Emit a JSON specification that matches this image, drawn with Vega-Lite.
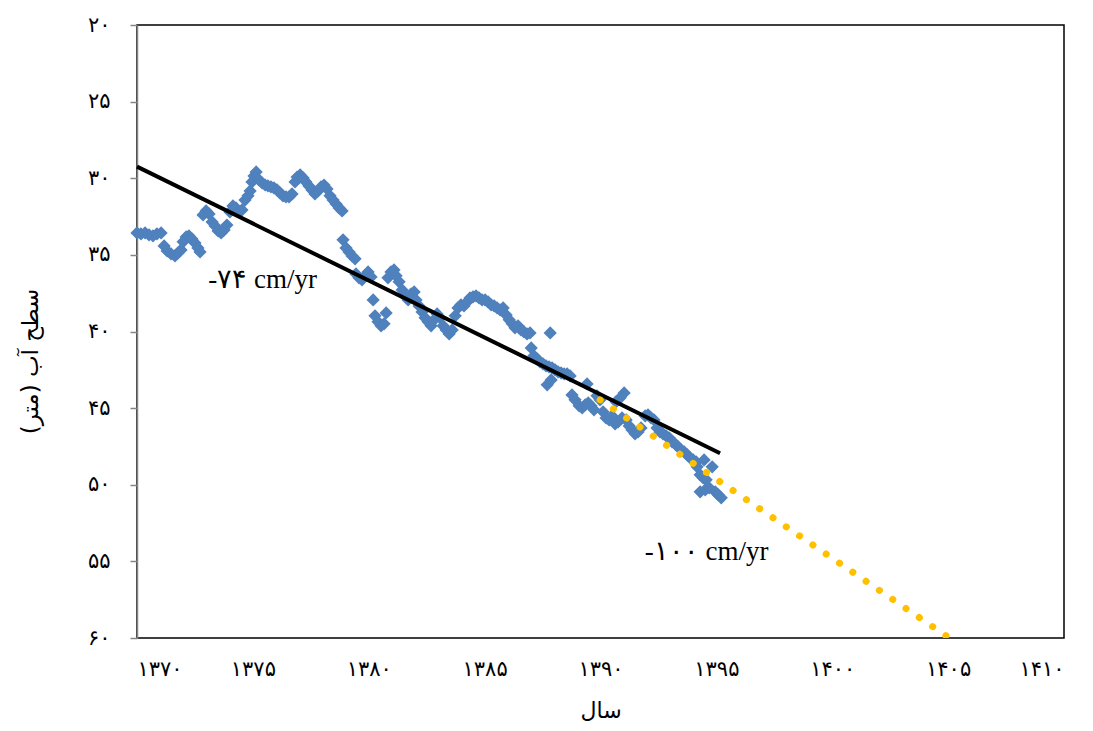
{
  "$schema": "https://vega.github.io/schema/vega-lite/v6.json",
  "width": 927,
  "height": 613,
  "autosize": {"type": "none"},
  "padding": {"left": 137, "top": 25, "right": 29, "bottom": 93},
  "background": "white",
  "config": {"view": {"stroke": "#000000", "strokeWidth": 1.5}, "font": "Liberation Serif"},
  "datasets": {
    "obs": [
      {"year":1370.00,"level":33.57},{"year":1370.17,"level":33.63},{"year":1370.35,"level":33.57},{"year":1370.52,"level":33.70},
      {"year":1370.69,"level":33.76},{"year":1370.86,"level":33.63},{"year":1371.04,"level":33.57},{"year":1371.17,"level":34.42},
      {"year":1371.30,"level":34.74},{"year":1371.47,"level":34.94},{"year":1371.64,"level":35.07},{"year":1371.77,"level":34.87},
      {"year":1371.90,"level":34.68},{"year":1371.99,"level":34.15},{"year":1372.12,"level":33.83},{"year":1372.24,"level":33.76},
      {"year":1372.37,"level":33.96},{"year":1372.50,"level":34.22},{"year":1372.63,"level":34.55},{"year":1372.72,"level":34.81},
      {"year":1372.85,"level":32.39},{"year":1372.98,"level":32.13},{"year":1373.11,"level":32.33},{"year":1373.24,"level":32.85},
      {"year":1373.37,"level":33.11},{"year":1373.50,"level":33.44},{"year":1373.63,"level":33.57},{"year":1373.76,"level":33.37},
      {"year":1373.88,"level":33.05},{"year":1374.01,"level":32.20},{"year":1374.14,"level":31.81},{"year":1374.27,"level":31.94},
      {"year":1374.40,"level":32.20},{"year":1374.53,"level":32.07},{"year":1374.66,"level":31.42},{"year":1374.79,"level":31.15},
      {"year":1374.88,"level":30.83},{"year":1374.96,"level":30.24},{"year":1375.05,"level":29.85},{"year":1375.14,"level":29.59},
      {"year":1375.27,"level":30.11},{"year":1375.40,"level":30.31},{"year":1375.53,"level":30.44},{"year":1375.65,"level":30.50},
      {"year":1375.78,"level":30.57},{"year":1375.91,"level":30.63},{"year":1376.04,"level":30.76},{"year":1376.17,"level":30.96},
      {"year":1376.30,"level":31.15},{"year":1376.43,"level":31.22},{"year":1376.56,"level":31.22},{"year":1376.69,"level":31.02},
      {"year":1376.82,"level":30.24},{"year":1376.91,"level":29.92},{"year":1377.04,"level":29.78},{"year":1377.17,"level":29.98},
      {"year":1377.29,"level":30.24},{"year":1377.42,"level":30.50},{"year":1377.55,"level":30.76},{"year":1377.68,"level":31.02},
      {"year":1377.81,"level":30.83},{"year":1377.94,"level":30.57},{"year":1378.07,"level":30.44},{"year":1378.20,"level":30.70},
      {"year":1378.33,"level":31.15},{"year":1378.46,"level":31.42},{"year":1378.59,"level":31.68},{"year":1378.72,"level":31.94},
      {"year":1378.85,"level":32.13},{"year":1378.89,"level":34.02},{"year":1379.02,"level":34.55},{"year":1379.15,"level":34.81},
      {"year":1379.28,"level":35.07},{"year":1379.41,"level":35.26},{"year":1379.45,"level":36.24},{"year":1379.58,"level":36.50},
      {"year":1379.71,"level":36.63},{"year":1379.84,"level":36.37},{"year":1379.97,"level":36.11},{"year":1380.10,"level":36.44},
      {"year":1380.19,"level":37.94},{"year":1380.27,"level":38.98},{"year":1380.40,"level":39.37},{"year":1380.53,"level":39.63},
      {"year":1380.66,"level":39.50},{"year":1380.75,"level":38.79},{"year":1380.83,"level":36.50},{"year":1380.96,"level":36.11},
      {"year":1381.09,"level":35.98},{"year":1381.18,"level":36.37},{"year":1381.31,"level":36.76},{"year":1381.44,"level":37.29},
      {"year":1381.57,"level":37.68},{"year":1381.70,"level":37.94},{"year":1381.83,"level":37.55},{"year":1381.96,"level":37.42},
      {"year":1382.04,"level":37.94},{"year":1382.17,"level":38.33},{"year":1382.30,"level":38.72},{"year":1382.43,"level":39.11},
      {"year":1382.56,"level":39.37},{"year":1382.69,"level":39.63},{"year":1382.82,"level":39.24},{"year":1382.95,"level":38.85},
      {"year":1383.08,"level":39.11},{"year":1383.21,"level":39.63},{"year":1383.34,"level":39.90},{"year":1383.47,"level":40.16},
      {"year":1383.60,"level":39.90},{"year":1383.73,"level":38.98},{"year":1383.85,"level":38.46},{"year":1383.98,"level":38.26},
      {"year":1384.11,"level":38.33},{"year":1384.24,"level":38.07},{"year":1384.37,"level":37.81},{"year":1384.50,"level":37.74},
      {"year":1384.63,"level":37.68},{"year":1384.76,"level":37.81},{"year":1384.89,"level":37.94},{"year":1385.02,"level":37.94},
      {"year":1385.15,"level":38.07},{"year":1385.28,"level":38.26},{"year":1385.41,"level":38.33},{"year":1385.54,"level":38.46},
      {"year":1385.67,"level":38.59},{"year":1385.80,"level":38.46},{"year":1385.93,"level":38.92},{"year":1386.06,"level":39.24},
      {"year":1386.19,"level":39.50},{"year":1386.31,"level":39.76},{"year":1386.44,"level":39.63},{"year":1386.57,"level":39.90},
      {"year":1386.70,"level":40.03},{"year":1386.83,"level":40.16},{"year":1386.96,"level":40.09},{"year":1387.83,"level":40.09},
      {"year":1387.01,"level":41.07},{"year":1387.13,"level":41.59},{"year":1387.26,"level":41.79},{"year":1387.39,"level":41.98},
      {"year":1387.52,"level":42.11},{"year":1387.65,"level":42.24},{"year":1387.78,"level":42.31},{"year":1387.91,"level":42.37},
      {"year":1388.04,"level":42.50},{"year":1388.17,"level":42.64},{"year":1388.30,"level":42.70},{"year":1388.43,"level":42.77},
      {"year":1388.56,"level":42.77},{"year":1388.69,"level":42.90},{"year":1387.70,"level":43.48},{"year":1387.87,"level":43.16},
      {"year":1388.77,"level":44.14},{"year":1388.90,"level":44.46},{"year":1389.08,"level":44.85},{"year":1389.21,"level":44.98},
      {"year":1389.34,"level":44.79},{"year":1389.42,"level":43.42},{"year":1389.47,"level":44.66},{"year":1389.59,"level":44.85},
      {"year":1389.72,"level":45.11},{"year":1389.85,"level":44.20},{"year":1389.98,"level":44.46},{"year":1390.11,"level":45.24},
      {"year":1390.24,"level":45.64},{"year":1390.37,"level":45.77},{"year":1390.50,"level":45.51},{"year":1390.67,"level":44.59},
      {"year":1390.85,"level":44.33},{"year":1391.02,"level":44.01},{"year":1390.63,"level":46.03},{"year":1390.76,"level":45.90},
      {"year":1390.93,"level":45.64},{"year":1391.11,"level":45.77},{"year":1391.24,"level":46.16},{"year":1391.36,"level":46.42},
      {"year":1391.49,"level":46.68},{"year":1391.62,"level":46.55},{"year":1391.75,"level":46.29},{"year":1391.93,"level":45.51},
      {"year":1392.05,"level":45.44},{"year":1392.18,"level":45.64},{"year":1392.31,"level":45.77},{"year":1392.44,"level":46.29},
      {"year":1392.57,"level":46.55},{"year":1392.70,"level":46.68},{"year":1392.83,"level":46.81},{"year":1392.96,"level":46.94},
      {"year":1393.09,"level":47.20},{"year":1393.22,"level":47.33},{"year":1393.35,"level":47.53},{"year":1393.48,"level":47.72},
      {"year":1393.61,"level":47.85},{"year":1393.74,"level":48.05},{"year":1393.87,"level":48.25},{"year":1394.00,"level":48.38},
      {"year":1394.13,"level":48.51},{"year":1394.17,"level":48.83},{"year":1394.30,"level":49.35},{"year":1394.43,"level":49.55},
      {"year":1394.56,"level":49.68},{"year":1394.47,"level":48.38},{"year":1394.30,"level":50.46},{"year":1394.52,"level":50.33},
      {"year":1394.69,"level":50.20},{"year":1394.82,"level":48.83},{"year":1394.95,"level":50.46},{"year":1395.08,"level":50.66},
      {"year":1395.21,"level":50.85}
    ],
    "trend": [{"year":1370,"level":29.24},{"year":1395.16,"level":47.94}],
    "proj": [{"year":1389.98,"level":44.46},{"year":1405.05,"level":60}],
    "notes": [
      {"year":1375.42,"level":36.63,"text":"-۷۴ cm/yr"},
      {"year":1394.58,"level":54.38,"text":"-۱۰۰  cm/yr"}
    ]
  },
  "layer": [
    {
      "data": {"name": "obs"},
      "mark": {"type": "point", "shape": "diamond", "filled": true, "size": 175, "color": "#4F81BD", "opacity": 1},
      "encoding": {
        "x": {
          "field": "year", "type": "quantitative",
          "scale": {"domain": [1370, 1410], "nice": false, "zero": false},
          "axis": {
            "title": "سال",
            "values": [1370, 1375, 1380, 1385, 1390, 1395, 1400, 1405, 1410],
            "labelExpr": "replace(replace(replace(replace(replace(replace(replace(replace(replace(replace(''+datum.value,regexp('0','g'),'۰'),regexp('1','g'),'۱'),regexp('2','g'),'۲'),regexp('3','g'),'۳'),regexp('4','g'),'۴'),regexp('5','g'),'۵'),regexp('6','g'),'۶'),regexp('7','g'),'۷'),regexp('8','g'),'۸'),regexp('9','g'),'۹')",
            "ticks": false, "domain": false, "grid": false,
            "labelFont": "DejaVu Sans", "labelFontSize": 21, "labelColor": "#000000", "labelPadding": 20,
            "titleFont": "DejaVu Sans", "titleFontSize": 22, "titleFontWeight": "normal", "titleColor": "#000000",
            "titleY": 62
          }
        },
        "y": {
          "field": "level", "type": "quantitative",
          "scale": {"domain": [20, 60], "reverse": true, "nice": false, "zero": false},
          "axis": {
            "title": "سطح آب (متر)",
            "values": [20, 25, 30, 35, 40, 45, 50, 55, 60],
            "labelExpr": "replace(replace(replace(replace(replace(replace(replace(replace(replace(replace(''+datum.value,regexp('0','g'),'۰'),regexp('1','g'),'۱'),regexp('2','g'),'۲'),regexp('3','g'),'۳'),regexp('4','g'),'۴'),regexp('5','g'),'۵'),regexp('6','g'),'۶'),regexp('7','g'),'۷'),regexp('8','g'),'۸'),regexp('9','g'),'۹')",
            "grid": false, "domain": true, "domainColor": "#868686", "domainWidth": 1.5,
            "ticks": true, "tickColor": "#868686", "tickSize": 7, "tickWidth": 1.5,
            "labelFont": "DejaVu Sans", "labelFontSize": 21, "labelColor": "#000000", "labelPadding": 20,
            "titleFont": "DejaVu Sans", "titleFontSize": 23, "titleFontWeight": "normal", "titleColor": "#000000",
            "titleX": -95, "titleY": 336
          }
        }
      }
    },
    {
      "data": {"name": "trend"},
      "mark": {"type": "line", "color": "#000000", "strokeWidth": 4},
      "encoding": {
        "x": {"field": "year", "type": "quantitative"},
        "y": {"field": "level", "type": "quantitative"}
      }
    },
    {
      "data": {"name": "proj"},
      "mark": {"type": "line", "color": "#FFC000", "strokeWidth": 7, "strokeCap": "round", "strokeDash": [0.1, 16], "clip": true},
      "encoding": {
        "x": {"field": "year", "type": "quantitative"},
        "y": {"field": "level", "type": "quantitative"}
      }
    },
    {
      "data": {"name": "notes"},
      "mark": {"type": "text", "font": "Liberation Serif", "fontSize": 27, "color": "#000000", "align": "center", "baseline": "middle"},
      "encoding": {
        "x": {"field": "year", "type": "quantitative"},
        "y": {"field": "level", "type": "quantitative"},
        "text": {"field": "text"}
      }
    }
  ]
}
